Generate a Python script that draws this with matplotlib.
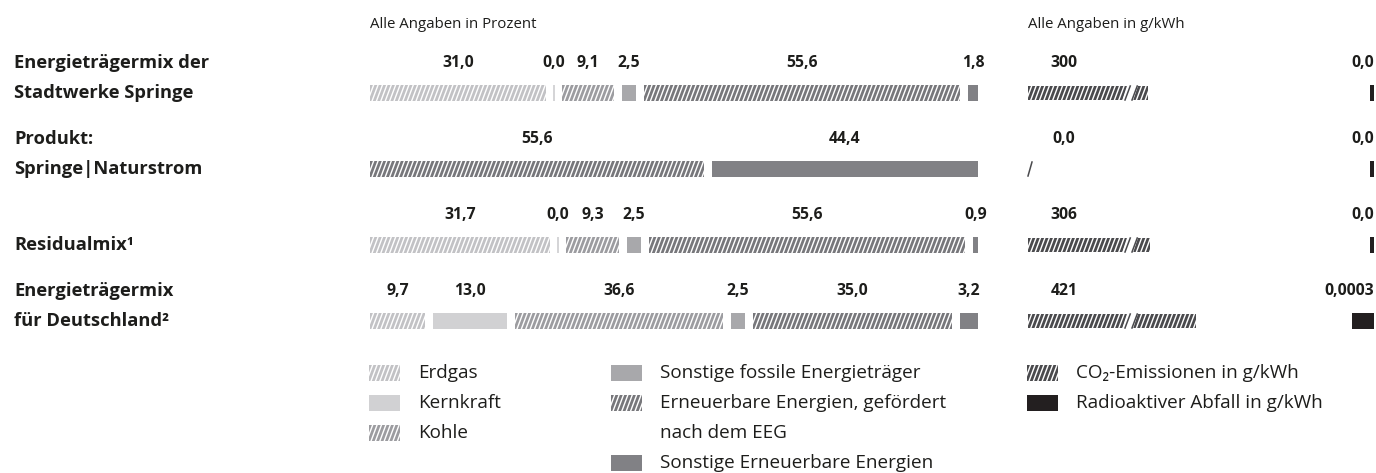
import matplotlib
matplotlib.use("Agg")
import matplotlib.pyplot as plt
from matplotlib.collections import PolyCollection
from matplotlib.patches import Rectangle, Polygon
from matplotlib.transforms import IdentityTransform
from matplotlib.lines import Line2D

# ---------------- data ----------------
row_labels = [["Energieträgermix der", "Stadtwerke Springe"],
              ["Produkt:", "Springe|Naturstrom"],
              ["Residualmix¹"],
              ["Energieträgermix", "für Deutschland²"]]
categories = ["Erdgas", "Kernkraft", "Kohle", "Sonstige fossile Energieträger",
              "Erneuerbare Energien, gefördert\nnach dem EEG",
              "Sonstige Erneuerbare Energien"]
stadtwerke = [31.0, 0.0, 9.1, 2.5, 55.6, 1.8]
produkt = [None, None, None, None, 55.6, 44.4]
residual = [31.7, 0.0, 9.3, 2.5, 55.6, 0.9]
deutschland = [9.7, 13.0, 36.6, 2.5, 35.0, 3.2]
mix_rows = [stadtwerke, produkt, residual, deutschland]
co2 = [300, 0, 306, 421]
waste = [0.0, 0.0, 0.0, 0.0003]
waste_labels = ["0,0", "0,0", "0,0", "0,0003"]
header_left = "Alle Angaben in Prozent"
header_right = "Alle Angaben in g/kWh"
legend_right = ["CO₂-Emissionen in g/kWh", "Radioaktiver Abfall in g/kWh"]

# ---------------- style ----------------
W, H, DPI = 1376, 473, 100
FONT = ["Open Sans", "DejaVu Sans"]
TXT = "#1d1d1b"
hatched = [True, False, True, False, True, False]
cat_colors = ["#c2c2c5", "#d1d1d3", "#9c9ca0", "#a8a8ab", "#77777b", "#818185"]
CO2_COLOR = "#4a4a4d"
WASTE_COLOR = "#231f20"

plt.rcParams["font.family"] = FONT

fig = plt.figure(figsize=(W / DPI, H / DPI), dpi=DPI)

BAR0_PX, ROW_STEP = 93, 76
AX_TOP, AX_BOT = 40, 360


def make_axes(x0, x1):
    ax = fig.add_axes([x0 / W, 1 - AX_BOT / H, (x1 - x0) / W, (AX_BOT - AX_TOP) / H])
    ax.axis("off")
    ax.set_ylim((AX_BOT - BAR0_PX) / ROW_STEP, (AX_TOP - BAR0_PX) / ROW_STEP)
    return ax


def stripes(clip_patch, color, bb, period=4.4, sw=2.9, slant=6.0, zorder=3):
    x0, x1, y0, y1 = bb.x0, bb.x1, bb.y0, bb.y1
    dx = slant * (y1 - y0) / 16.0
    polys = []
    x = x0 - dx - period
    while x < x1 + period:
        polys.append([(x, y0), (x + sw, y0), (x + sw + dx, y1), (x + dx, y1)])
        x += period
    pc = PolyCollection(polys, facecolors=color, edgecolors="none",
                        transform=IdentityTransform(), zorder=zorder)
    pc.set_clip_path(clip_patch)
    fig.add_artist(pc)


def fmt(v):
    return f"{v:.1f}".replace(".", ",")


# ---------------- left panel ----------------
LEFT_X0, LEFT_X1 = 370, 978
ax = make_axes(LEFT_X0, LEFT_X1)
ax.set_xlim(0, 100)
GAP_U = 8 * 100 / (LEFT_X1 - LEFT_X0)
BAR_H = 16 / ROW_STEP
LABEL_OFF = 30 * 72 / DPI  # points

for r, vals in enumerate(mix_rows):
    shown = [(i, v) for i, v in enumerate(vals) if v is not None]
    k = (100 - (len(shown) - 1) * GAP_U) / 100
    left = 0.0
    for i, v in shown:
        w = v * k
        if v > 0:
            if hatched[i]:
                bars = ax.barh(r, w, left=left, height=BAR_H, color="none", linewidth=0)
                p = bars.patches[0]
                stripes(p, cat_colors[i], p.get_window_extent())
            else:
                ax.barh(r, w, left=left, height=BAR_H, color=cat_colors[i], linewidth=0)
        else:
            ax.plot([left, left], [r - BAR_H / 2, r + BAR_H / 2], color=cat_colors[i], lw=1.3,
                    solid_capstyle="butt")
        ax.annotate(fmt(v), (left + w / 2, r), xytext=(0, LABEL_OFF), textcoords="offset points",
                    ha="center", va="center", fontsize=11.3, fontweight="bold", color=TXT)
        left += w + GAP_U

# row labels
for r, lines in enumerate(row_labels):
    offs = [0] if len(lines) == 1 else [LABEL_OFF, 0]
    for line, off in zip(lines, offs):
        ax.annotate(line, (14, r), xycoords=("figure pixels", "data"), xytext=(0, off),
                    textcoords="offset points", ha="left", va="center", fontsize=13.2,
                    fontweight="bold", color=TXT)

# ---------------- right panel: CO2 ----------------
R_X0, R_X1 = 1028, 1374
PX_PER_G = 0.4
axc = make_axes(R_X0, R_X1)
axc.set_xlim(0, (R_X1 - R_X0) / PX_PER_G)
CO2_H = 14 / ROW_STEP
BREAK_PX = 96  # axis break drawn at this offset from the panel start
for r, v in enumerate(co2):
    lbl = fmt(v) if v == 0 else f"{v:d}"
    axc.annotate(lbl, (R_X0 + 36, r), xycoords=("figure pixels", "data"), xytext=(0, LABEL_OFF),
                 textcoords="offset points", ha="center", va="center", fontsize=11.3,
                 fontweight="bold", color=TXT)
    if v > 0:
        bars = axc.barh(r, v, height=CO2_H, color="none", linewidth=0)
        p = bars.patches[0]
        bb = p.get_window_extent()
        stripes(p, CO2_COLOR, bb)
        if bb.x1 - bb.x0 > BREAK_PX + 12:
            bx = bb.x0 + BREAK_PX
            y0, y1 = bb.y0, bb.y1
            dx = 6.0 * (y1 - y0) / 16.0
            gap = Polygon([(bx - 2, y0 - 1), (bx + 9, y0 - 1), (bx + 9 + dx, y1 + 1), (bx - 2 + dx, y1 + 1)],
                          closed=True, facecolor="white", edgecolor="none",
                          transform=IdentityTransform(), zorder=5)
            fig.add_artist(gap)
            for ex in (bx + 1, bx + 8):
                fig.add_artist(Line2D([ex, ex + dx], [y0, y1], color=CO2_COLOR, lw=1.1,
                                      transform=IdentityTransform(), zorder=6))
    else:
        bb = axc.transData.transform([(0, r + CO2_H / 2), (0, r - CO2_H / 2)])
        fig.add_artist(Line2D([bb[0][0], bb[0][0] + 4], [bb[0][1], bb[1][1]], color=CO2_COLOR,
                              lw=1.1, transform=IdentityTransform(), zorder=6))

# ---------------- right panel: radioactive waste ----------------
W_PX_PER_UNIT = 22 / 0.0003
axw = make_axes(R_X1 - 100, R_X1)
axw.set_xlim(100 / W_PX_PER_UNIT, 0)
MIN_W = 4 / W_PX_PER_UNIT
for r, (v, lbl) in enumerate(zip(waste, waste_labels)):
    axw.barh(r, max(v, MIN_W), height=BAR_H, color=WASTE_COLOR, linewidth=0)
    axw.annotate(lbl, (0, r), xytext=(0, LABEL_OFF), textcoords="offset points", ha="right",
                 va="center", fontsize=11.3, fontweight="bold", color=TXT)

# ---------------- headers ----------------
fig.text(LEFT_X0 / W, 1 - 24 / H, header_left, ha="left", va="center", fontsize=10.8, color=TXT)
fig.text(R_X0 / W, 1 - 24 / H, header_right, ha="left", va="center", fontsize=10.8, color=TXT)

# ---------------- legend ----------------
ICON_W, ICON_H = 31, 16


def legend_icon(x, yc, color, hatch):
    rect = Rectangle((x, H - yc - ICON_H / 2), ICON_W, ICON_H, transform=IdentityTransform(),
                     facecolor="none" if hatch else color, edgecolor="none", zorder=3)
    fig.add_artist(rect)
    if hatch:
        stripes(rect, color, rect.get_window_extent())


LEG_Y0, LEG_STEP = 373, 30
LEG_FS = 13.6
col_x = [369, 611]
col_items = [[0, 1, 2], [3, 4, 5]]
for cx, items in zip(col_x, col_items):
    row = 0
    for i in items:
        yc = LEG_Y0 + row * LEG_STEP
        legend_icon(cx, yc, cat_colors[i], hatched[i])
        for j, line in enumerate(categories[i].split("\n")):
            fig.text((cx + 49) / W, 1 - (yc + j * LEG_STEP) / H, line, ha="left", va="center",
                     fontsize=LEG_FS, color=TXT)
        row += len(categories[i].split("\n"))

for j, (lbl, col, hatch) in enumerate(zip(legend_right, [CO2_COLOR, WASTE_COLOR], [True, False])):
    yc = LEG_Y0 + j * LEG_STEP
    legend_icon(1027, yc, col, hatch)
    fig.text(1076 / W, 1 - yc / H, lbl, ha="left", va="center", fontsize=LEG_FS, color=TXT)

fig.savefig("out.png", dpi=DPI)
